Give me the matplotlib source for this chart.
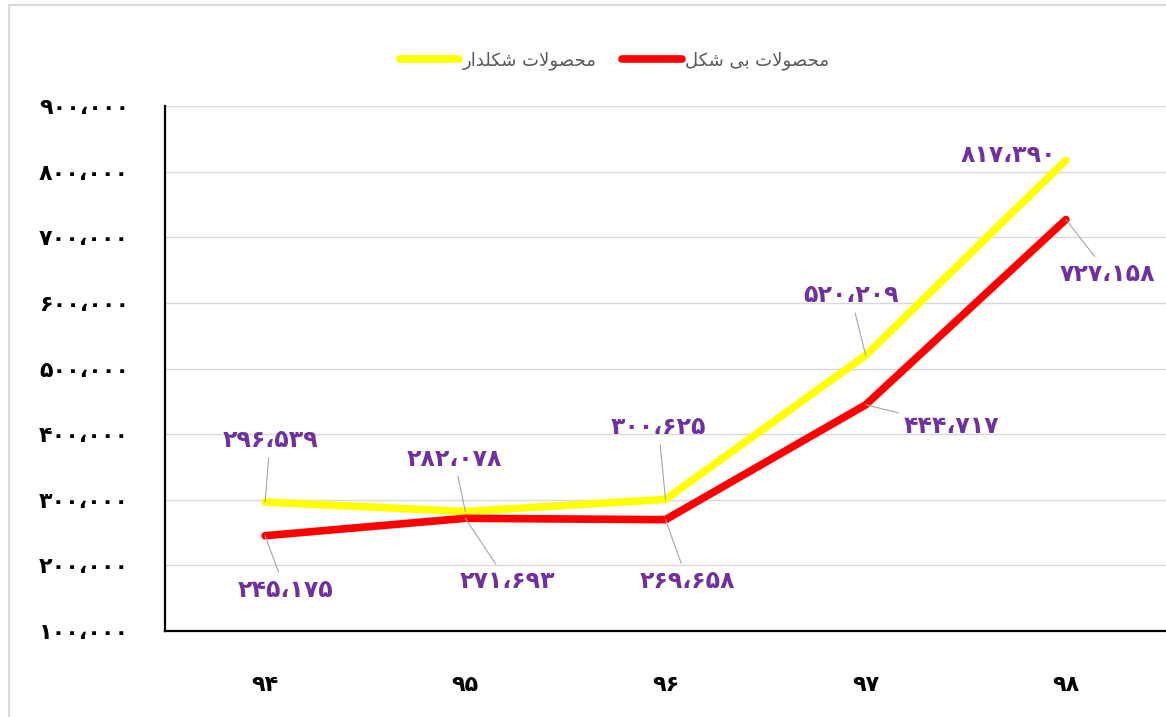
import matplotlib
matplotlib.use("Agg")
import matplotlib.pyplot as plt
from matplotlib.lines import Line2D

# data
years = ["94", "95", "96", "97", "98"]
shaped = [296539, 282078, 300625, 520209, 817390]    # محصولات شکلدار
shapeless = [245175, 271693, 269658, 444717, 727158]  # محصولات بی شکل
name_shaped = "محصولات شکلدار"
name_shapeless = "محصولات بی شکل"
yticks = [100000, 200000, 300000, 400000, 500000, 600000, 700000, 800000, 900000]

FA_DIGITS = str.maketrans("0123456789", "۰۱۲۳۴۵۶۷۸۹")


def fa_num(v):
    return f"{v:,}".replace(",", "،").translate(FA_DIGITS)


# minimal arabic shaping (matplotlib has no bidi / joining)
FORMS = {
    "ب": ("\uFE8F", "\uFE90", "\uFE91", "\uFE92"),
    "ت": ("\uFE95", "\uFE96", "\uFE97", "\uFE98"),
    "ح": ("\uFEA1", "\uFEA2", "\uFEA3", "\uFEA4"),
    "ش": ("\uFEB5", "\uFEB6", "\uFEB7", "\uFEB8"),
    "ص": ("\uFEB9", "\uFEBA", "\uFEBB", "\uFEBC"),
    "ل": ("\uFEDD", "\uFEDE", "\uFEDF", "\uFEE0"),
    "م": ("\uFEE1", "\uFEE2", "\uFEE3", "\uFEE4"),
    "ک": ("\uFED9", "\uFEDA", "\uFEDB", "\uFEDC"),
    "ی": ("\uFEEF", "\uFEF0", "\uFEF3", "\uFEF4"),
    "ا": ("\uFE8D", "\uFE8E"),
    "د": ("\uFEA9", "\uFEAA"),
    "و": ("\uFEED", "\uFEEE"),
    "\x01": ("\uFEFB", "\uFEFC"),  # lam-alef
}


def shape(text):
    s = text.replace("لا", "\x01")
    out = []
    for i, ch in enumerate(s):
        if ch not in FORMS:
            out.append(ch)
            continue
        f = FORMS[ch]
        prev = s[i - 1] if i > 0 else ""
        nxt = s[i + 1] if i + 1 < len(s) else ""
        jp = prev in FORMS and len(FORMS[prev]) == 4
        jn = len(f) == 4 and nxt in FORMS
        if jp and jn:
            out.append(f[3])
        elif jp:
            out.append(f[1])
        elif jn:
            out.append(f[2])
        else:
            out.append(f[0])
    return "".join(out)[::-1]


plt.rcParams["font.family"] = ["DejaVu Sans"]

fig = plt.figure(figsize=(11.66, 7.17), dpi=100)
ax = fig.add_axes([0.1415, 0.12, 0.8585, 0.732])

x = list(range(len(years)))
ax.plot(x, shaped, color="#FFFF00", lw=5.5, solid_capstyle="round", solid_joinstyle="round", zorder=3)
ax.plot(x, shapeless, color="#FF0000", lw=5.5, solid_capstyle="round", solid_joinstyle="round", zorder=3)

ax.set_xlim(-0.5, 4.5)
ax.set_ylim(100000, 900000)
ax.set_yticks(yticks)
ax.set_yticklabels([fa_num(v) for v in yticks], fontsize=16, fontweight="bold")
ax.set_xticks(x)
ax.set_xticklabels([y.translate(FA_DIGITS) for y in years], fontsize=16, fontweight="bold")
ax.tick_params(axis="y", length=0, pad=26)
ax.tick_params(axis="x", length=0, pad=32)
ax.grid(axis="y", color="#d9d9d9", lw=1)
ax.set_axisbelow(True)
for side in ["top", "right"]:
    ax.spines[side].set_visible(False)
for side in ["left", "bottom"]:
    ax.spines[side].set_color("black")
    ax.spines[side].set_linewidth(1.6)

# data labels, offsets in pixels
off_shaped = [(5, 62), (-11, 53), (-7, 72), (-15, 60), (-57, 5)]
off_shapeless = [(20, -54), (42, -63), (22, -61), (86, -21), (42, -54)]
lead = dict(arrowstyle="-", color="#a6a6a6", lw=0.8, shrinkA=2, shrinkB=0)
for i in x:
    ax.annotate(fa_num(shaped[i]), (i, shaped[i]), xytext=off_shaped[i],
                textcoords="offset pixels", ha="center", va="center",
                fontsize=17, fontweight="bold", color="#7030A0",
                arrowprops=lead if i < 4 else None, zorder=4)
    ax.annotate(fa_num(shapeless[i]), (i, shapeless[i]), xytext=off_shapeless[i],
                textcoords="offset pixels", ha="center", va="center",
                fontsize=17, fontweight="bold", color="#7030A0",
                arrowprops=lead, zorder=4)

handles = [Line2D([], [], color="#FFFF00", lw=5.5, solid_capstyle="round"),
           Line2D([], [], color="#FF0000", lw=5.5, solid_capstyle="round")]
fig.legend(handles, [shape(name_shaped), shape(name_shapeless)],
           loc="center", bbox_to_anchor=(0.527, 0.916), ncol=2, frameon=False,
           fontsize=13, labelcolor="#595959", handlelength=3.3,
           handletextpad=0.2, columnspacing=1.4)

# chart frame
fig.add_artist(Line2D([9 / 1166, 9 / 1166], [0, 1 - 5 / 717], color="#d9d9d9", lw=1.5))
fig.add_artist(Line2D([9 / 1166, 1], [1 - 5 / 717, 1 - 5 / 717], color="#d9d9d9", lw=1.5))

fig.savefig("out.png", dpi=100)
